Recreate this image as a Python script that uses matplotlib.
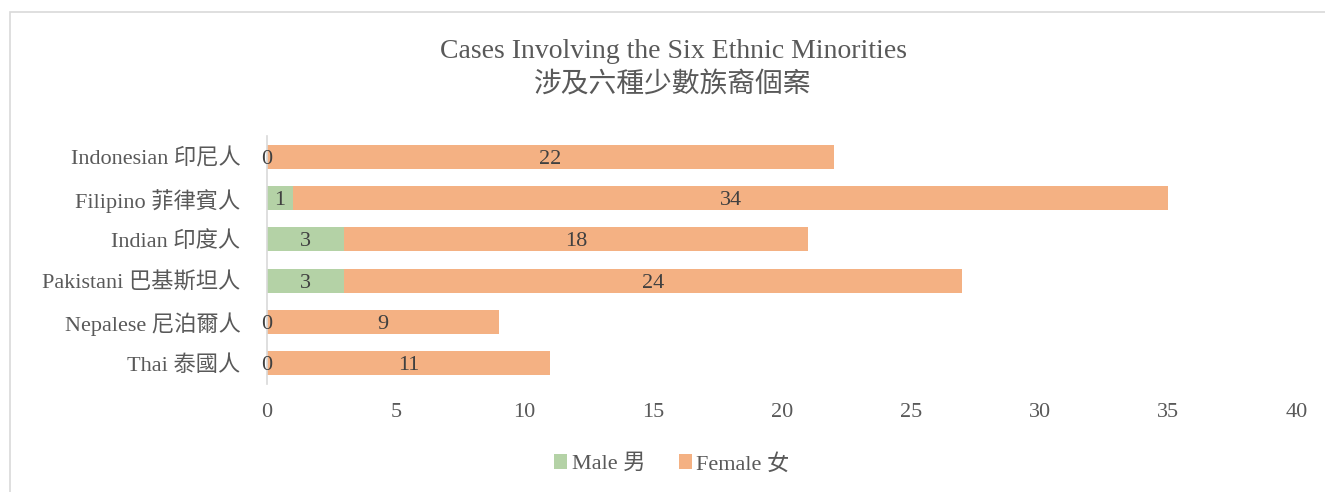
import matplotlib.pyplot as plt
from matplotlib.patches import Rectangle

categories = ['Thai 泰國人', 'Nepalese 尼泊爾人', 'Pakistani 巴基斯坦人',
              'Indian 印度人', 'Filipino 菲律賓人', 'Indonesian 印尼人']
male = [0, 0, 3, 3, 1, 0]
female = [11, 9, 24, 18, 34, 22]
x_ticks = [0, 5, 10, 15, 20, 25, 30, 35, 40]

plt.rcParams['font.family'] = ['Liberation Serif', 'Noto Sans CJK TC']

text_gray = '#595959'
green = '#B4D2A6'
orange = '#F4B183'

fig = plt.figure(figsize=(13.25, 4.92), dpi=100)
ax = fig.add_axes([0.2015, 0.2203, 0.7775, 0.5025])

# outer chart border (only top/left visible in the reference)
fig.add_artist(Rectangle((10 / 1325, -0.05), 1.1, 0.05 + 480 / 492,
                         transform=fig.transFigure, fill=False,
                         edgecolor='#D9D9D9', linewidth=1.2))

ypos = list(range(len(categories)))
b1 = ax.barh(ypos, male, height=0.58, color=green, label='Male 男')
b2 = ax.barh(ypos, female, left=male, height=0.58, color=orange, label='Female 女')

# segment value labels, centred in each segment
for y, m, f in zip(ypos, male, female):
    ax.text(m / 2, y, str(m), ha='center', va='center_baseline',
            fontsize=16, color='#404040')
    ax.text(m + f / 2, y, str(f), ha='center', va='center_baseline',
            fontsize=16, color='#404040')

ax.set_xlim(0, 40)
ax.set_ylim(-0.5, len(categories) - 0.5)
ax.set_xticks(x_ticks)
ax.set_yticks(ypos)
ax.set_yticklabels(categories)
ax.tick_params(axis='both', length=0, labelsize=16, labelcolor=text_gray)
ax.tick_params(axis='x', pad=14)
ax.tick_params(axis='y', pad=19)

for s in ['top', 'right', 'bottom']:
    ax.spines[s].set_visible(False)
ax.spines['left'].set_color('#D9D9D9')
ax.spines['left'].set_linewidth(1.2)

fig.text(0.508, 1 - 51 / 492, 'Cases Involving the Six Ethnic Minorities',
         ha='center', va='center', fontsize=20, color=text_gray)
fig.text(0.508, 1 - 85 / 492, '涉及六種少數族裔個案',
         ha='center', va='center', fontsize=20, color=text_gray)

fig.legend(handles=[b1, b2], loc='center', bbox_to_anchor=(0.507, 1 - 464 / 492),
           ncol=2, frameon=False, fontsize=16, labelcolor=text_gray,
           handlelength=0.6, handleheight=0.6, handletextpad=0.2,
           columnspacing=1.5)

fig.savefig('out.png', dpi=100)
